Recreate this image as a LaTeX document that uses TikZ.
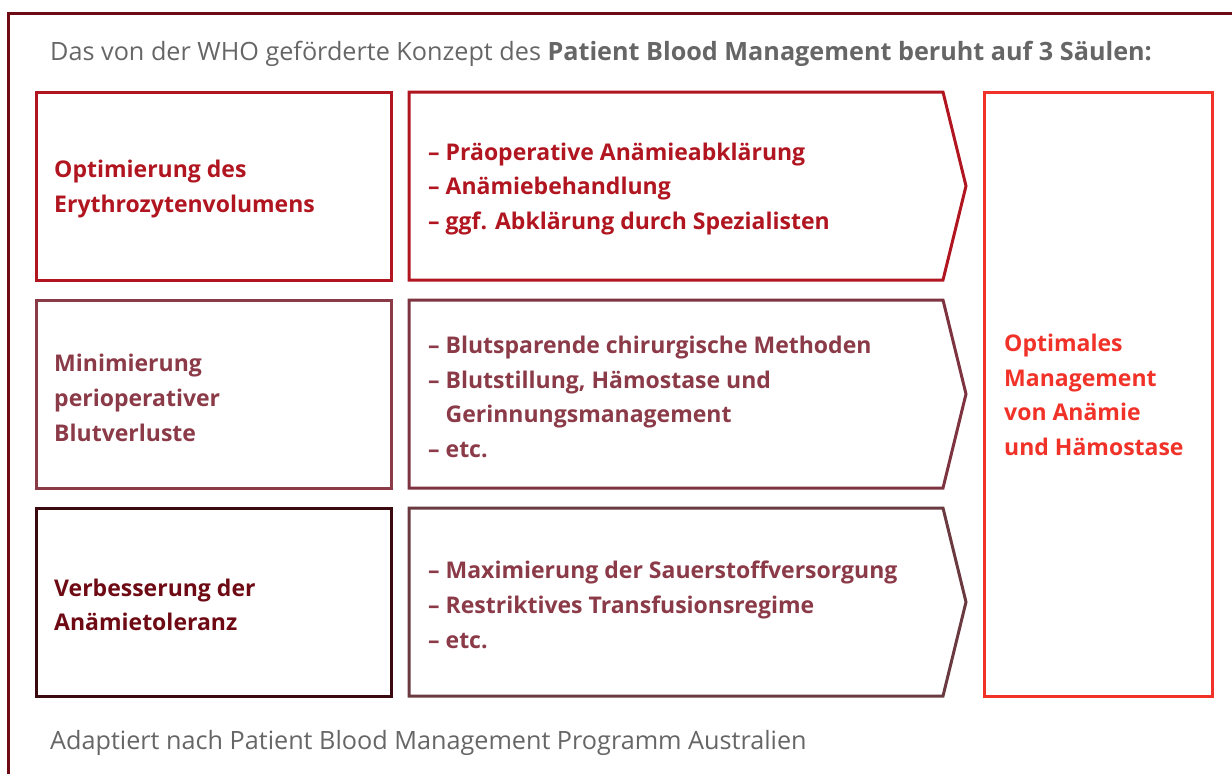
\documentclass[tikz,border=0pt]{standalone}
\usepackage{fontspec}
\setmainfont{Open Sans}
\definecolor{frame}{HTML}{6E0A14}
\definecolor{rowa}{HTML}{B01520}
\definecolor{rowb}{HTML}{8B3A48}
\definecolor{rowbarrow}{HTML}{7E3440}
\definecolor{rowcbox}{HTML}{3A0A0E}
\definecolor{rowctext}{HTML}{6E0A14}
\definecolor{rowcarrow}{HTML}{6A3A40}
\definecolor{optred}{HTML}{F03228}
\definecolor{graytext}{HTML}{666666}
\tikzset{
  boxline/.style={line width=3pt, line join=miter},
  lbl/.style={anchor=west, align=left, inner sep=0pt, font=\fontsize{23}{34.7}\selectfont\bfseries},
  note/.style={anchor=west, inner sep=0pt, text=graytext, font=\fontsize{25.2}{30}\selectfont}
}
\begin{document}
\begin{tikzpicture}[x=1pt,y=-1pt]
\useasboundingbox (0,0) rectangle (1232,774);
% outer frame
\draw[line width=3pt, frame] (8,780) -- (8,13) -- (1240,13);
% header / footer
\node[note] (head) at (50,54) {Das von der WHO geförderte Konzept des \textbf{Patient Blood Management beruht auf 3 Säulen:}};
\node[note] (foot) at (50,743) {Adaptiert nach Patient Blood Management Programm Australien};
% row 1
\draw[boxline, rowa] (36,92) rectangle (391,280);
\draw[boxline, rowa] (409,92) -- (943,92) -- (966,186) -- (943,280) -- (409,280) -- cycle;
\node[lbl, text=rowa] (l1) at (54,189) {Optimierung des\\Erythrozytenvolumens};
\node[lbl, text=rowa] (a1) at (428,189) {– Präoperative Anämieabklärung\\– Anämiebehandlung\\– ggf. Abklärung durch Spezialisten};
% row 2
\draw[boxline, rowb] (36,300) rectangle (391,488);
\draw[boxline, rowbarrow] (409,300) -- (943,300) -- (966,394) -- (943,488) -- (409,488) -- cycle;
\node[lbl, text=rowb] (l2) at (54,398) {Minimierung\\perioperativer\\Blutverluste};
\node[lbl, text=rowb] (a2) at (428,397) {– Blutsparende chirurgische Methoden\\– Blutstillung, Hämostase und\\\hphantom{– }Gerinnungsmanagement\\– etc.};
% row 3
\draw[boxline, rowcbox] (36,508) rectangle (391,696);
\draw[boxline, rowcarrow] (409,508) -- (943,508) -- (966,602) -- (943,696) -- (409,696) -- cycle;
\node[lbl, text=rowctext] (l3) at (54,605) {Verbesserung der\\Anämietoleranz};
\node[lbl, text=rowb] (a3) at (428,605) {– Maximierung der Sauerstoffversorgung\\– Restriktives Transfusionsregime\\– etc.};
% right box
\draw[boxline, optred] (984,92) rectangle (1212,696);
\node[lbl, text=optred] (r) at (1004,395) {Optimales\\Management\\von Anämie\\und Hämostase};
\end{tikzpicture}
\end{document}
